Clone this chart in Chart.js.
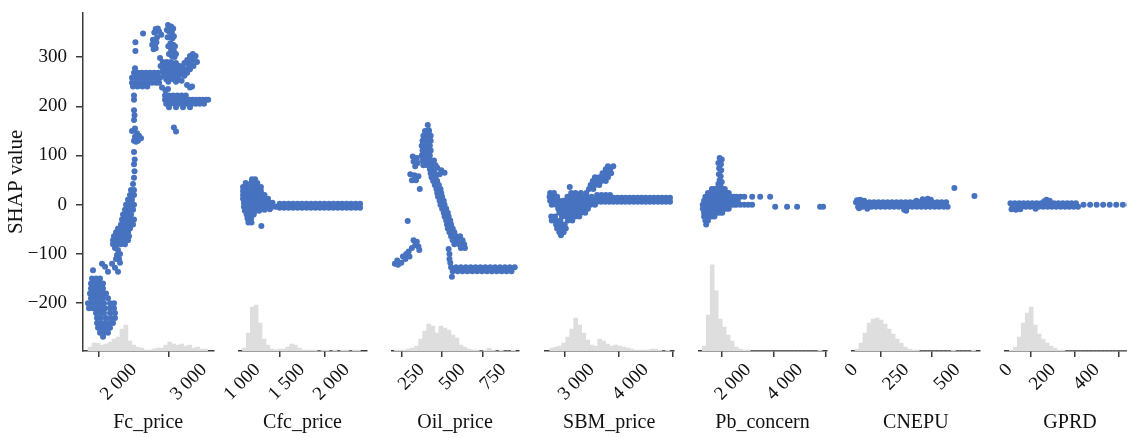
<!DOCTYPE html>
<html>
<head>
<meta charset="utf-8">
<script src="https://cdn.jsdelivr.net/npm/chart.js@4.4.1/dist/chart.umd.min.js"></script>
<style>
  html, body { margin: 0; padding: 0; background: #fff; overflow: hidden; }
  #wrap { position: relative; width: 1127px; height: 437px; overflow: hidden; }
  #wrap canvas { position: absolute; left: 0; top: 0; }
</style>
</head>
<body>
<div id="wrap"></div>
<script>
// feature names, x ranges and tick values
const features = ['Fc_price', 'Cfc_price', 'Oil_price', 'SBM_price', 'Pb_concern', 'CNEPU', 'GPRD'];
const xRanges = [[1271, 3133], [787, 2224], [66, 842], [2135, 4511], [77, 5027], [-16, 610], [-20, 576]];
const xTicks = [[2000, 3000], [1000, 1500, 2000], [250, 500, 750], [3000, 4000], [2000, 4000], [0, 250, 500], [0, 200, 400]];
const yTicks = [-200, -100, 0, 100, 200, 300];
const yRange = [-297, 390];

// SHAP values per feature, [feature value, shap value]
const fcPts = [
  [1414,-133],
  [1400,-150],[1457,-150],[1514,-150],
  [1385,-160],[1443,-160],[1500,-160],[1557,-160],
  [1385,-170],[1443,-170],[1500,-170],[1557,-170],
  [1371,-180],[1428,-180],[1486,-180],[1543,-180],[1600,-180],
  [1385,-190],[1443,-190],[1500,-190],[1557,-190],[1628,-190],
  [1342,-200],[1400,-200],[1457,-200],[1514,-200],[1571,-200],[1657,-200],[1714,-200],
  [1357,-210],[1414,-210],[1471,-210],[1528,-210],[1586,-210],[1657,-210],[1714,-210],
  [1457,-220],[1514,-220],[1571,-220],[1657,-220],[1728,-220],
  [1471,-230],[1528,-230],[1600,-230],[1671,-230],[1728,-230],
  [1471,-240],[1528,-240],[1586,-240],[1643,-240],[1700,-240],
  [1486,-250],[1543,-250],[1600,-250],[1657,-250],
  [1514,-260],[1571,-260],[1628,-260],[1557,-268],
  [1543,-120],[1586,-126],[1628,-136],[1686,-120],[1728,-128],[1771,-136],[1800,-118],
  [1728,-88],[1771,-92],[1757,-102],[1800,-100],[1743,-110],[1786,-110],
  [1700,-80],[1757,-80],[1814,-80],[1871,-80],
  [1700,-72],[1757,-72],[1814,-72],[1871,-72],[1914,-72],
  [1714,-64],[1771,-64],[1828,-64],[1886,-64],[1928,-64],
  [1743,-56],[1800,-56],[1857,-56],[1914,-56],
  [1771,-48],[1828,-48],[1886,-48],[1943,-48],
  [1814,-40],[1871,-40],[1928,-40],[1986,-40],
  [1828,-30],[1886,-30],[1943,-30],[2000,-30],
  [1843,-20],[1900,-20],[1957,-20],
  [1871,-10],[1928,-10],[1986,-10],
  [1886,0],[1943,0],[2000,0],
  [1914,10],[1971,10],[1943,20],[2000,20],[1957,30],[2000,30],[1986,42],
  [2000,55],[2007,68],[2000,82],[2010,92],[2000,107],
  [1971,150],[2014,155],[2043,145],[2071,140],[2014,138],[2057,130],[2100,135],[2029,128],[2000,130],
  [2000,172],[2007,182],[2000,192],[2000,213],[2000,222],
  [2000,268],[2057,268],[2114,268],[2172,268],[2229,268],[2286,268],[2343,268],
  [1971,258],[2029,258],[2086,258],[2143,258],[2200,258],[2257,258],[2315,258],[2372,258],
  [1971,248],[2029,248],[2086,248],[2143,248],[2200,248],[2257,248],[2315,248],[2358,248],
  [1985,240],[2050,240],[2120,240],[2190,240],
  [2400,238],[2450,232],[2486,235],[2014,277],
  [2020,330],[2020,312],[2129,348],
  [2310,357],[2360,352],[2390,345],[2330,340],[2270,335],[2300,325],[2280,316],
  [2290,350],[2340,358],[2260,325],[2320,330],[2310,318],
  [2486,365],[2530,362],[2500,352],[2540,350],[2510,340],[2550,338],[2520,328],[2560,325],
  [2530,315],[2570,312],[2540,302],[2580,300],
  [2470,355],[2560,358],[2480,340],[2570,342],[2490,322],[2585,322],[2500,306],[2600,306],
  [2372,298],[2410,290],[2380,282],[2420,278],[2400,270],[2450,272],[2430,262],[2480,265],
  [2460,255],[2510,258],[2490,250],[2470,290],[2500,282],[2530,290],[2520,272],[2550,262],
  [2500,268],[2470,280],[2440,286],
  [2543,282],[2586,278],[2629,272],[2570,268],[2610,262],[2660,265],[2560,255],[2640,255],
  [2700,268],[2740,275],[2780,285],[2820,292],[2860,298],[2900,290],[2850,282],[2800,275],
  [2720,262],[2680,252],[2600,250],[2600,288],[2650,282],[2690,280],[2720,288],[2760,294],
  [2800,302],[2840,306],[2880,302],[2660,272],[2760,268],
  [2758,243],[2800,238],[2830,240],
  [2443,222],[2500,222],[2560,222],[2620,222],[2680,222],[2740,222],
  [2443,213],[2486,213],[2530,213],[2575,213],[2620,213],[2665,213],[2710,213],[2755,213],
  [2800,213],[2845,213],[2890,213],[2935,213],[2980,213],[3030,213],[3060,213],
  [2460,205],[2520,205],[2580,205],[2640,205],[2700,205],[2760,205],[2820,205],[2880,205],
  [2940,205],[3000,205],
  [2500,198],[2600,198],[2700,198],[2800,198],
  [2570,157],[2600,149]
];
const cfcPts = [
  [940,52],[975,52],
  [870,44],[930,44],[975,44],[1000,44],
  [840,36],[880,36],[920,36],[960,36],[1000,36],[1040,36],
  [840,28],[880,28],[920,28],[960,28],[1000,28],[1040,28],
  [840,20],[880,20],[920,20],[960,20],[1000,20],[1040,20],[1080,20],
  [840,12],[880,12],[920,12],[960,12],[1000,12],[1040,12],[1080,12],[1120,12],
  [850,4],[890,4],[930,4],[970,4],[1010,4],[1050,4],[1090,4],[1130,4],[1170,4],
  [850,-4],[890,-4],[930,-4],[970,-4],[1010,-4],[1050,-4],[1090,-4],[1130,-4],[1170,-4],[1210,-4],
  [860,-12],[900,-12],[940,-12],[980,-12],[1020,-12],[1080,-10],[1140,-9],
  [880,-20],[920,-20],[960,-20],
  [890,-28],[930,-28],
  [900,-36],[935,-36],
  [1045,-43],
  [1250,2],[1300,2],[1350,2],[1400,2],[1450,2],[1500,2],[1550,2],[1600,2],[1650,2],[1700,2],
  [1750,2],[1800,2],[1850,2],[1900,2],[1950,2],[2000,2],[2050,2],[2100,2],[2150,2],
  [1250,-6],[1300,-6],[1350,-6],[1400,-6],[1450,-6],[1500,-6],[1550,-6],[1600,-6],[1650,-6],[1700,-6],
  [1750,-6],[1800,-6],[1850,-6],[1900,-6],[1950,-6],[2000,-6],[2050,-6],[2100,-6],[2150,-6]
];
const oilPts = [
  [287,162],[292,152],
  [270,150],[295,150],
  [260,140],[285,140],[305,140],
  [255,130],[280,130],[305,130],
  [250,120],[275,120],[300,120],
  [255,110],[280,110],[305,110],
  [250,100],[275,100],[300,100],
  [255,90],[280,90],[305,90],[325,90],
  [260,80],[285,80],[310,80],[335,80],
  [195,98],[220,95],[200,88],[225,85],[210,78],
  [180,62],[205,60],[230,58],[190,50],[215,50],[238,32],
  [345,75],[370,70],[390,65],[360,62],
  [300,72],[325,72],[305,64],[330,64],[310,56],[335,56],[320,48],[345,48],
  [330,40],[355,40],[340,32],[365,32],[345,24],[370,24],[350,16],[375,16],
  [360,8],[385,8],[365,0],[390,0],[375,-8],[400,-8],[385,-16],[410,-16],
  [390,-24],[415,-24],[400,-32],[425,-32],[405,-40],[430,-40],[410,-48],[440,-48],
  [420,-56],[450,-56],[430,-64],[460,-64],[485,-64],[440,-72],[470,-72],[500,-72],
  [450,-80],[480,-80],[510,-80],[490,-88],[515,-88],
  [415,-90],[420,-100],[420,-110],[425,-118],
  [430,-127],[460,-127],[490,-127],[520,-127],[550,-127],[580,-127],[610,-127],[640,-127],
  [670,-127],[700,-127],[730,-127],[760,-127],[790,-127],[820,-127],
  [440,-135],[470,-135],[500,-135],[530,-135],[560,-135],[590,-135],[620,-135],[650,-135],
  [680,-135],[710,-135],[740,-135],[770,-135],[800,-135],
  [435,-146],
  [85,-120],[105,-122],[125,-118],[100,-113],
  [135,-105],[155,-100],[170,-95],[150,-110],[175,-105],
  [190,-88],[210,-82],[230,-85],[200,-72],[220,-75],[235,-92],
  [164,-33]
];
const sbmPts = [
  [2230,24],[2300,24],[2620,24],[2700,24],[2800,24],[2900,24],
  [2220,16],[2290,16],[2360,16],[2550,16],[2640,16],[2730,16],[2820,16],[2910,16],[3000,16],
  [2230,8],[2310,8],[2390,8],[2470,8],[2550,8],[2630,8],[2710,8],[2790,8],[2870,8],[2950,8],[3030,8],
  [2260,0],[2340,0],[2420,0],[2500,0],[2580,0],[2660,0],[2740,0],[2820,0],[2900,0],[2980,0],[3060,0],
  [2380,-8],[2450,-8],[2530,-8],[2610,-8],[2690,-8],[2770,-8],[2850,-8],[2930,-8],
  [2400,-16],[2480,-16],[2560,-16],[2640,-16],[2720,-16],[2800,-16],[2880,-16],
  [2250,-24],[2320,-24],[2450,-24],[2530,-24],[2610,-24],[2690,-24],[2770,-24],
  [2260,-32],[2340,-32],[2420,-32],[2560,-32],[2640,-32],
  [2340,-40],[2420,-40],[2500,-40],
  [2360,-48],[2440,-48],[2520,-48],
  [2400,-56],[2480,-56],[2430,-62],
  [2593,36],
  [2950,32],[3030,32],
  [2980,40],[3060,40],[3140,40],
  [3020,48],[3100,48],[3180,48],[3260,48],
  [3060,56],[3140,56],[3220,56],[3300,56],
  [3200,64],[3280,64],[3360,64],
  [3260,72],[3340,72],[3300,78],[3400,78],
  [3100,20],[3180,20],[3260,20],[3340,20],
  [3100,14],[3175,14],[3250,14],[3325,14],[3400,14],[3475,14],[3550,14],[3625,14],[3700,14],[3775,14],
  [3850,14],[3925,14],[4000,14],[4075,14],[4150,14],[4225,14],[4300,14],[4375,14],[4450,14],
  [3100,6],[3175,6],[3250,6],[3325,6],[3400,6],[3475,6],[3550,6],[3625,6],[3700,6],[3775,6],
  [3850,6],[3925,6],[4000,6],[4075,6],[4150,6],[4225,6],[4300,6],[4375,6],[4450,6]
];
const pbPts = [
  [900,95],[980,92],[850,85],[950,82],[880,74],[960,70],[870,62],[940,58],[900,50],[980,46],[850,42],[930,38],
  [600,32],[700,32],[800,32],[1000,32],[1100,32],
  [450,24],[550,24],[650,24],[750,24],[850,24],[950,24],[1050,24],[1150,24],[1250,24],
  [350,16],[450,16],[550,16],[650,16],[750,16],[850,16],[950,16],[1050,16],[1150,16],[1250,16],[1350,16],[1450,16],
  [300,8],[400,8],[500,8],[600,8],[700,8],[800,8],[900,8],[1000,8],[1100,8],[1200,8],[1300,8],[1400,8],[1500,8],[1600,8],
  [250,0],[350,0],[450,0],[550,0],[650,0],[750,0],[850,0],[950,0],[1050,0],[1150,0],[1250,0],[1350,0],
  [1450,0],[1550,0],[1700,0],[1850,0],[2000,0],[2150,0],
  [250,-8],[350,-8],[450,-8],[550,-8],[650,-8],[750,-8],[850,-8],[950,-8],[1050,-8],[1150,-8],[1250,-8],
  [300,-16],[400,-16],[500,-16],[600,-16],[700,-16],[800,-16],[900,-16],[1000,-16],
  [300,-24],[400,-24],[500,-24],[600,-24],[700,-24],
  [350,-32],[450,-32],[380,-40],
  [1550,16],[1700,16],[1850,16],[2154,16],[2462,16],[2847,16],
  [3040,-4],[3500,-4],[3886,-4],[4772,-4],[4888,-4]
];
const cnepuPts = [
  [5,5],[27,5],[49,5],[71,5],[93,5],[115,5],[137,5],[159,5],[181,5],[203,5],[225,5],[247,5],
  [269,5],[291,5],[313,5],[335,5],[357,5],[379,5],[401,5],[423,5],[445,5],
  [15,-4],[37,-4],[59,-4],[81,-4],[103,-4],[125,-4],[147,-4],[169,-4],[191,-4],[213,-4],[235,-4],
  [257,-4],[279,-4],[301,-4],[323,-4],[345,-4],[367,-4],[389,-4],[411,-4],[433,-4],[452,-4],
  [10,9],[25,10],[45,8],[60,-8],[20,-7],[250,-12],[240,-10],[330,11],[355,12],[370,10],[300,8],
  [485,34],[583,18]
];
const gprdPts = [
  [5,3],[25,3],[45,3],[65,3],[85,3],[105,3],[125,3],[145,3],[165,3],[185,3],[205,3],[225,3],
  [245,3],[265,3],[285,3],[305,3],
  [15,-4],[35,-4],[55,-4],[75,-4],[95,-4],[115,-4],[135,-4],[155,-4],[175,-4],[195,-4],[215,-4],
  [235,-4],[255,-4],[275,-4],[295,-4],[315,-4],
  [10,-9],[30,-10],[50,-9],[170,10],[160,7],[185,8],[120,-8],
  [340,0],[370,0],[400,0],[430,0],[460,0],[490,0],[520,0],[550,0],[580,0]
];
const points = [fcPts, cfcPts, oilPts, sbmPts, pbPts, cnepuPts, gprdPts];

// histograms of the feature values: first bin edge, bin width, counts
const histStart = [1342, 833, 83, 2223, 229, 0, 0];
const histWidth = [57, 44, 24.7, 74, 154, 19.6, 18.2];
const fcHist = [4,8,8,6,7,9,12,14,22,26,10,6,4,3,1,1,2,3,3,6,9,7,6,7,5,6,3,4,2,2];
const cfcHist = [3,18,44,46,28,12,6,2,1,2,2,4,7,6,3,1,1,1,1,0,1,1,0,1,0,1,1,0,1,1];
const oilHist = [1,1,1,2,3,5,12,20,27,25,18,25,23,21,16,13,6,4,2,1,1,0,1,3,1,0,1,0,0,1];
const sbmHist = [3,4,5,8,14,22,33,26,18,11,6,5,12,10,7,5,6,5,4,3,2,1,1,1,1,2,2,1,0,1];
const pbHist = [5,36,86,60,32,24,16,10,4,2,1,1,0,0,0,0,0,0,0,0,0,0,0,0,0,0,0,0,0,1];
const cnepuHist = [2,8,18,28,32,33,31,27,22,17,12,8,4,2,1,1,0,0,0,0,0,0,0,0,1,0,0,0,0,1];
const gprdHist = [1,4,14,28,38,44,26,17,12,8,5,3,1,1,0,0,0,0,0,0,0,0,0,0,0,0,0,0,0,0];
const hists = [fcHist, cfcHist, oilHist, sbmHist, pbHist, cnepuHist, gprdHist];
const HIST_TOP = 338;

// layout of the panels on the page
const W = 1140, H = 437;
const areaTop = 12.7, areaBottom = 351;
const panelLeft = [83, 238.3, 391.7, 545, 698.3, 851.7, 1005];
const panelRight = [213.3, 366.7, 518.3, 673.3, 826.7, 980, 1135];
const dotColor = '#4672bf';
const barColor = '#dedede';
const axisColor = '#3a3a3a';
const textColor = '#111';

Chart.defaults.font.family = "'Liberation Serif', 'Times New Roman', serif";
Chart.defaults.color = textColor;

function fmtX(v) {
  if (v >= 1000) return Math.floor(v / 1000) + ' ' + String(v % 1000).padStart(3, '0');
  return String(v);
}
function fmtY(v) {
  return v < 0 ? '\u2212' + Math.abs(v) : String(v);
}

const wrap = document.getElementById('wrap');
features.forEach((name, i) => {
  const cv = document.createElement('canvas');
  cv.width = W;
  cv.height = H;
  wrap.appendChild(cv);
  const first = i === 0;

  new Chart(cv, {
    type: 'scatter',
    data: {
      datasets: [
        {
          data: points[i].map(p => ({ x: p[0], y: p[1] })),
          backgroundColor: dotColor,
          pointRadius: 3,
          pointBorderWidth: 0,
          yAxisID: 'y'
        },
        {
          type: 'bar',
          data: hists[i].map((c, k) => ({ x: histStart[i] + (k + 0.5) * histWidth[i], y: c })),
          backgroundColor: barColor,
          borderWidth: 0,
          barPercentage: 1,
          categoryPercentage: 1,
          yAxisID: 'y2'
        }
      ]
    },
    options: {
      responsive: false,
      animation: false,
      events: [],
      layout: { padding: { left: first ? 0 : panelLeft[i], right: W - panelRight[i], top: areaTop, bottom: 0 } },
      plugins: { legend: { display: false }, tooltip: { enabled: false } },
      scales: {
        x: {
          type: 'linear',
          min: xRanges[i][0],
          max: xRanges[i][1],
          offset: false,
          afterBuildTicks: s => { s.ticks = xTicks[i].map(v => ({ value: v })); },
          afterFit: s => { s.height = H - areaBottom; s.paddingLeft = 0; s.paddingRight = 0; },
          grid: { display: true, drawOnChartArea: false, drawTicks: true, tickLength: 6, color: axisColor, lineWidth: 1.5 },
          border: { display: true, color: axisColor, width: 1.5 },
          ticks: {
            autoSkip: false, minRotation: 45, maxRotation: 45, padding: 2,
            font: { size: 19 }, color: textColor,
            callback: v => fmtX(v)
          },
          title: { display: true, text: name, font: { size: 20 }, color: textColor, padding: { top: 0, bottom: 2 } }
        },
        y: {
          display: first,
          min: yRange[0],
          max: yRange[1],
          afterBuildTicks: s => { s.ticks = yTicks.map(v => ({ value: v })); },
          afterFit: s => {
            if (first) s.width = panelLeft[0];
            s.paddingTop = 0;
            s.paddingBottom = 0;
          },
          grid: { display: true, drawOnChartArea: false, drawTicks: true, tickLength: 7, color: axisColor, lineWidth: 1.5 },
          border: { display: true, color: axisColor, width: 1.5 },
          ticks: { padding: 9, font: { size: 19 }, color: textColor, callback: v => fmtY(v) },
          title: { display: true, text: 'SHAP value', font: { size: 21 }, color: textColor, padding: { top: 4, bottom: 0 } }
        },
        y2: { display: false, min: 0, max: HIST_TOP }
      }
    }
  });
});
</script>
</body>
</html>
